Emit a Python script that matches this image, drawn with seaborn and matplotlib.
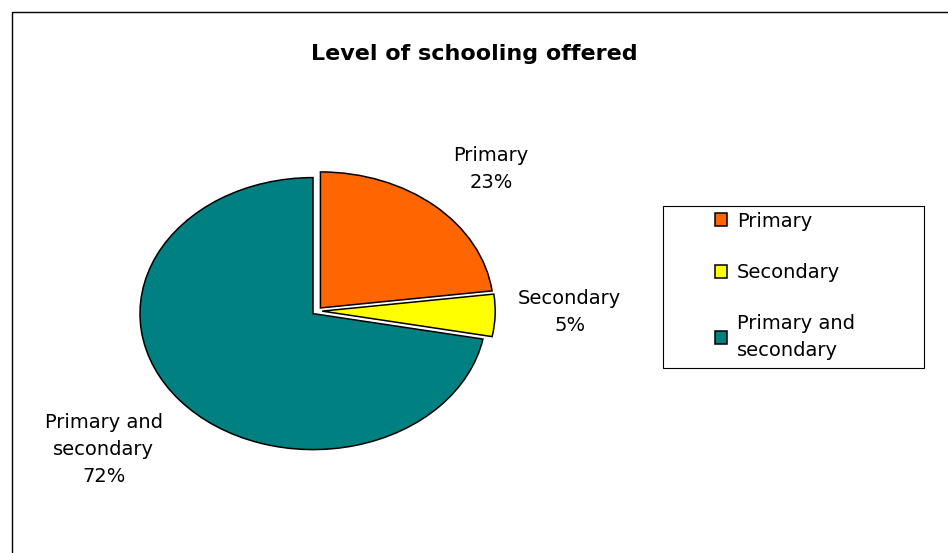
import matplotlib
matplotlib.use("Agg")
import matplotlib.pyplot as plt
import seaborn as sns
import numpy as np
from matplotlib.patches import Rectangle

# ---- data ----
title = "Level of schooling offered"
categories = ["Primary", "Secondary", "Primary and secondary"]
pie_labels = ["Primary", "Secondary", "Primary and\nsecondary"]
legend_labels = ["Primary", "Secondary", "Primary and\nsecondary"]
values = [23, 5, 72]
colors = ["#FF6600", "#FFFF00", "#008080"]

sns.set_theme(style="white")
plt.rcParams["font.family"] = ["DejaVu Sans"]

W, H = 948, 553
fig = plt.figure(figsize=(W / 100, H / 100), dpi=100)
fig.patch.set_facecolor("white")

# pie axes: unit radius -> 173 px horizontally, 136 px vertically
rx, ry = 173.0, 136.0
cx, cy = 317.0, 311.0
lim = 1.3
ax_w, ax_h = 2 * lim * rx, 2 * lim * ry
ax = fig.add_axes([(cx - lim * rx) / W, (H - (cy + lim * ry)) / H, ax_w / W, ax_h / H])

total = float(sum(values))
wedges, _ = ax.pie(
    values,
    colors=colors,
    startangle=90,
    counterclock=False,
    explode=[0.03, 0.03, 0.03],
    wedgeprops=dict(edgecolor="black", linewidth=1.1),
)
ax.set_aspect("auto")
ax.set_xlim(-lim, lim)
ax.set_ylim(-lim, lim)
ax.axis("off")

# data labels (placed along each wedge's mid angle)
label_dist = [1.45, 1.46, 1.6]
label_dang = [-2.5, 1.5, 0.0]
for w, lab, v, d, da in zip(wedges, pie_labels, values, label_dist, label_dang):
    ang = np.deg2rad((w.theta1 + w.theta2) / 2.0 + da)
    ax.text(d * np.cos(ang), d * np.sin(ang), f"{lab}\n{round(v / total * 100):d}%",
            ha="center", va="center", multialignment="center",
            fontsize=14, color="black", linespacing=1.55)

# title
fig.text(474.5 / W, 1 - 54 / H, title, ha="center", va="center",
         fontsize=16, fontweight="bold", color="black")

# legend
leg = fig.legend(wedges, legend_labels, loc="upper left",
                 bbox_to_anchor=(705 / W, 1 - 202 / H),
                 frameon=False, fontsize=14, borderpad=0,
                 handlelength=0.65, handleheight=0.65, handletextpad=0.5,
                 labelspacing=1.66)
for t in leg.get_texts():
    t.set_color("black")
    t.set_linespacing(1.5)

# legend box
fig.patches.append(Rectangle((663 / W, (H - 368) / H), 261 / W, 162 / H,
                             transform=fig.transFigure, fill=False,
                             edgecolor="black", linewidth=0.8))
# chart border
fig.patches.append(Rectangle((12 / W, -0.1), 1.0, (H - 12) / H + 0.1,
                             transform=fig.transFigure, fill=False,
                             edgecolor="black", linewidth=1.0))

fig.savefig("out.png", dpi=100, facecolor="white")
